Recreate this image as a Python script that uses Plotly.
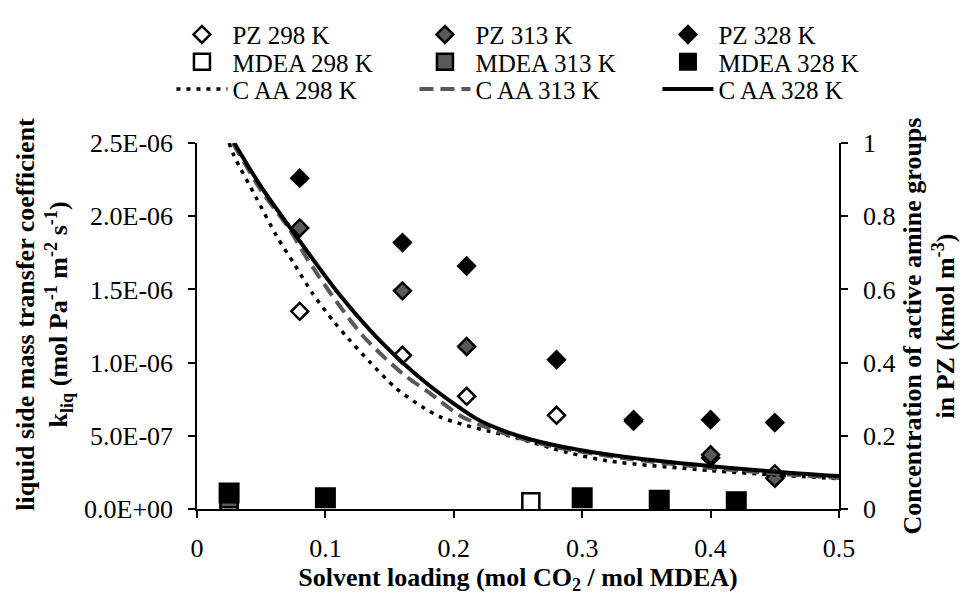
import plotly.graph_objects as go

# ---- data ----
pz298_x = [0.08, 0.16, 0.21, 0.28, 0.40, 0.45]
pz298_y = [1.35e-6, 1.05e-6, 0.77e-6, 0.64e-6, 0.35e-6, 0.24e-6]

pz313_x = [0.08, 0.16, 0.21, 0.34, 0.40, 0.45]
pz313_y = [1.92e-6, 1.49e-6, 1.11e-6, 0.61e-6, 0.37e-6, 0.21e-6]

pz328_x = [0.08, 0.16, 0.21, 0.28, 0.34, 0.40, 0.45]
pz328_y = [2.26e-6, 1.82e-6, 1.66e-6, 1.02e-6, 0.60e-6, 0.61e-6, 0.59e-6]

mdea298_x = [0.025, 0.26]
mdea298_y = [0.04e-6, 0.05e-6]

mdea313_x = [0.025]
mdea313_y = [0.07e-6]

mdea328_x = [0.025, 0.10, 0.30, 0.36, 0.42]
mdea328_y = [0.11e-6, 0.077e-6, 0.077e-6, 0.059e-6, 0.05e-6]

caa298_x = [0.025, 0.029, 0.046, 0.062, 0.076, 0.090, 0.107, 0.118, 0.135, 0.155,
            0.175, 0.191, 0.21, 0.228, 0.245, 0.288, 0.321, 0.40, 0.45, 0.50]
caa298_y = [1.0, 0.964, 0.851, 0.746, 0.668, 0.589, 0.51, 0.465, 0.40, 0.33,
            0.28, 0.249, 0.228, 0.212, 0.198, 0.155, 0.131, 0.105, 0.093, 0.083]

caa313_x = [0.028, 0.05, 0.071, 0.0865, 0.11, 0.13, 0.16, 0.18, 0.205, 0.224,
            0.25, 0.278, 0.33, 0.40, 0.45, 0.50]
caa313_y = [1.0, 0.87, 0.77, 0.68, 0.56, 0.47, 0.37, 0.32, 0.255, 0.225,
            0.195, 0.17, 0.14, 0.112, 0.097, 0.085]

caa328_x = [0.029, 0.05, 0.079, 0.11, 0.143, 0.18, 0.2165, 0.232, 0.26, 0.298,
            0.35, 0.40, 0.45, 0.50]
caa328_y = [1.0, 0.88, 0.737, 0.59, 0.458, 0.34, 0.249, 0.223, 0.19, 0.161,
            0.135, 0.117, 0.102, 0.09]

x_ticks = [0, 0.1, 0.2, 0.3, 0.4, 0.5]
x_ticktext = ["0", "0.1", "0.2", "0.3", "0.4", "0.5"]
y_ticks = [0, 0.5e-6, 1.0e-6, 1.5e-6, 2.0e-6, 2.5e-6]
y_ticktext = ["0.0E+00", "5.0E-07", "1.0E-06", "1.5E-06", "2.0E-06", "2.5E-06"]
y2_ticks = [0, 0.2, 0.4, 0.6, 0.8, 1.0]
y2_ticktext = ["0", "0.2", "0.4", "0.6", "0.8", "1"]

FONT = "Liberation Serif, Times New Roman, serif"
GREY = "#595959"
FS = 26
LFS = 25

fig = go.Figure()

fig.add_trace(go.Scatter(x=pz298_x, y=pz298_y, mode="markers", name="PZ 298 K", legend="legend",
                         marker=dict(symbol="diamond", size=13, color="white",
                                     line=dict(color="black", width=2.5))))
fig.add_trace(go.Scatter(x=pz313_x, y=pz313_y, mode="markers", name="PZ 313 K", legend="legend",
                         marker=dict(symbol="diamond", size=13, color=GREY,
                                     line=dict(color="black", width=2.5))))
fig.add_trace(go.Scatter(x=pz328_x, y=pz328_y, mode="markers", name="PZ 328 K", legend="legend",
                         marker=dict(symbol="diamond", size=14, color="black",
                                     line=dict(color="black", width=1.5))))
fig.add_trace(go.Scatter(x=mdea298_x, y=mdea298_y, mode="markers", name="MDEA 298 K", legend="legend2",
                         marker=dict(symbol="square", size=17, color="white",
                                     line=dict(color="black", width=2.5))))
fig.add_trace(go.Scatter(x=mdea313_x, y=mdea313_y, mode="markers", name="MDEA 313 K", legend="legend2",
                         marker=dict(symbol="square", size=17, color=GREY,
                                     line=dict(color="black", width=2.5))))
fig.add_trace(go.Scatter(x=mdea328_x, y=mdea328_y, mode="markers", name="MDEA 328 K", legend="legend2",
                         marker=dict(symbol="square", size=19, color="black",
                                     line=dict(color="black", width=2))))
fig.add_trace(go.Scatter(x=caa298_x, y=caa298_y, mode="lines", name="C AA 298 K", legend="legend3",
                         yaxis="y2", line=dict(color="black", width=3.5, dash="4px,6px",
                                               shape="spline", smoothing=0.8)))
fig.add_trace(go.Scatter(x=caa313_x, y=caa313_y, mode="lines", name="C AA 313 K", legend="legend3",
                         yaxis="y2", line=dict(color=GREY, width=4, dash="14px,7px",
                                               shape="spline", smoothing=0.8)))
fig.add_trace(go.Scatter(x=caa328_x, y=caa328_y, mode="lines", name="C AA 328 K", legend="legend3",
                         yaxis="y2", line=dict(color="black", width=4,
                                               shape="spline", smoothing=0.8)))

axis_common = dict(showgrid=False, zeroline=False, showline=True, linecolor="black",
                   linewidth=1.5, ticks="outside", ticklen=7, tickcolor="black",
                   tickwidth=1.5, tickfont=dict(family=FONT, size=FS, color="black"))

PLOT_TOP, PLOT_BOT = 133, 515
PLOT_L, PLOT_R = 197, 850


def leg(row_center_px):
    return dict(orientation="h", x=-0.0398, xanchor="left",
                y=(PLOT_BOT - row_center_px) / (PLOT_BOT - PLOT_TOP), yanchor="middle",
                font=dict(family=FONT, size=LFS, color="black"),
                entrywidth=177, entrywidthmode="pixels", itemwidth=51,
                tracegroupgap=0, itemsizing="trace", bgcolor="rgba(0,0,0,0)",
                borderwidth=0)


fig.update_layout(
    width=967, height=595,
    margin=dict(l=PLOT_L, r=967 - PLOT_R, t=PLOT_TOP, b=595 - PLOT_BOT),
    paper_bgcolor="white", plot_bgcolor="white",
    font=dict(family=FONT, color="black"),
    showlegend=True,
    legend=leg(20), legend2=leg(48.5), legend3=leg(77),
    xaxis=dict(range=[0, 0.5], tickvals=x_ticks, ticktext=x_ticktext, ticklabelstandoff=8,
               title=dict(text="<b>Solvent loading (mol CO<sub>2</sub> / mol MDEA)</b>",
                          font=dict(family=FONT, size=FS, color="black"), standoff=2),
               **axis_common),
    yaxis=dict(range=[0, 2.5e-6], tickvals=y_ticks, ticktext=y_ticktext, ticklabelstandoff=10,
               **axis_common),
    yaxis2=dict(range=[0, 1], tickvals=y2_ticks, ticktext=y2_ticktext,
                overlaying="y", side="right", ticklabelstandoff=10,
                title=dict(text="<b>Concentration of active amine groups<br>in PZ (kmol m<sup>-3</sup>)</b>",
                           font=dict(family=FONT, size=FS, color="black"), standoff=8),
                **axis_common),
    annotations=[dict(
        text="<b>liquid side mass transfer coefficient<br>k<sub>liq</sub> (mol Pa<sup>-1</sup> m<sup>-2</sup> s<sup>-1</sup>)</b>",
        xref="paper", yref="paper", x=(41 - PLOT_L) / (PLOT_R - PLOT_L), y=0.5,
        xanchor="center", yanchor="middle", yshift=12, textangle=-90, showarrow=False,
        font=dict(family=FONT, size=FS, color="black"))],
)

fig.write_html("out.html")
